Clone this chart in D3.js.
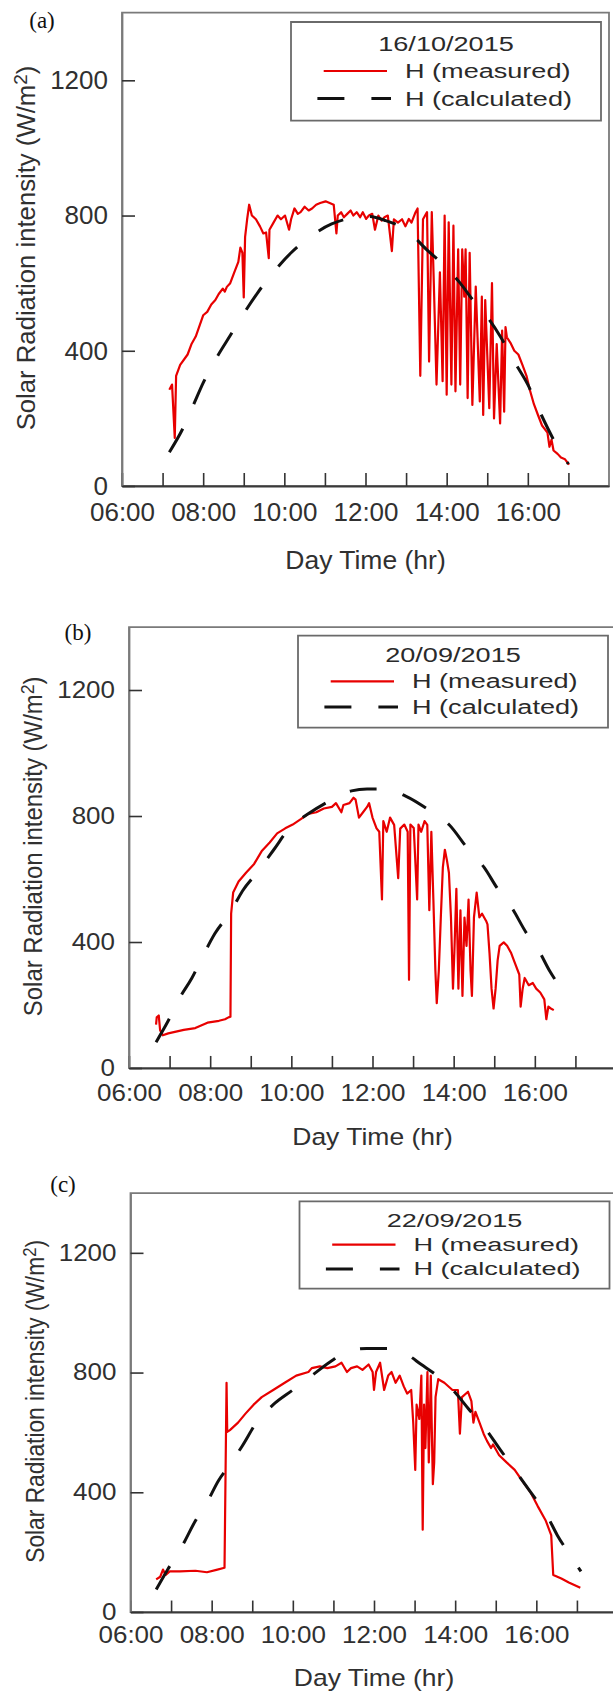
<!DOCTYPE html>
<html>
<head>
<meta charset="utf-8">
<script src="https://cdn.jsdelivr.net/npm/d3@7"></script>
<style>
  body { margin: 0; background: #fff; }
  svg { display: block; }
</style>
</head>
<body>
<div id="chart"></div>
<script>
// (a) 16/10/2015
const measuredA = [
  ["07:10", 285], ["07:14", 300], ["07:18", 142], ["07:20", 326], ["07:26", 358], ["07:37", 389],
  ["07:43", 421], ["07:49", 442], ["08:00", 505], ["08:06", 515], ["08:12", 537], ["08:18", 550],
  ["08:23", 568], ["08:29", 584], ["08:32", 575], ["08:35", 589], ["08:40", 600], ["08:46", 632],
  ["08:52", 663], ["08:55", 705], ["08:58", 690], ["09:00", 558], ["09:02", 737], ["09:05", 789],
  ["09:08", 832], ["09:12", 800], ["09:18", 789], ["09:24", 768], ["09:29", 747], ["09:33", 750],
  ["09:37", 674], ["09:38", 758], ["09:44", 779], ["09:50", 800], ["09:55", 789], ["10:01", 800],
  ["10:07", 758], ["10:10", 789], ["10:15", 821], ["10:20", 805], ["10:24", 810], ["10:30", 826],
  ["10:36", 815], ["10:41", 821], ["10:47", 832], ["10:53", 837], ["11:01", 842], ["11:07", 837],
  ["11:13", 832], ["11:17", 747], ["11:19", 800], ["11:24", 810], ["11:28", 795], ["11:33", 805],
  ["11:38", 815], ["11:42", 800], ["11:47", 810], ["11:52", 795], ["11:56", 810], ["12:01", 790],
  ["12:05", 800], ["12:10", 805], ["12:14", 758], ["12:19", 800], ["12:24", 785], ["12:28", 795],
  ["12:33", 800], ["12:39", 695], ["12:42", 789], ["12:48", 779], ["12:54", 789], ["12:59", 768],
  ["13:04", 790], ["13:08", 779], ["13:14", 810], ["13:17", 821], ["13:21", 326], ["13:25", 789],
  ["13:31", 810], ["13:34", 368], ["13:38", 810], ["13:41", 600], ["13:45", 300], ["13:50", 632],
  ["13:54", 310], ["13:57", 800], ["14:00", 270], ["14:03", 780], ["14:07", 300], ["14:10", 770],
  ["14:13", 280], ["14:17", 700], ["14:20", 300], ["14:23", 700], ["14:26", 560], ["14:28", 700],
  ["14:31", 260], ["14:34", 690], ["14:38", 240], ["14:43", 590], ["14:49", 250], ["14:52", 560],
  ["14:54", 210], ["14:57", 550], ["15:03", 230], ["15:07", 600], ["15:10", 200], ["15:14", 420],
  ["15:19", 185], ["15:22", 460], ["15:25", 220], ["15:27", 470], ["15:29", 440], ["15:35", 421],
  ["15:40", 400], ["15:46", 389], ["15:52", 358], ["15:58", 326], ["16:03", 284], ["16:09", 242],
  ["16:15", 210], ["16:21", 179], ["16:29", 158], ["16:32", 116], ["16:35", 137], ["16:38", 105],
  ["16:44", 95], ["16:49", 84], ["16:55", 79], ["17:01", 63]
];
const calculatedA = [
  ["07:10", 100], ["07:30", 170], ["07:45", 237], ["08:00", 305], ["08:20", 380], ["08:40", 445],
  ["09:00", 510], ["09:20", 570], ["09:45", 635], ["10:10", 690], ["10:40", 740], ["11:10", 775],
  ["11:40", 793], ["12:05", 797], ["12:30", 785], ["13:00", 758], ["13:30", 700], ["14:00", 645],
  ["14:20", 600], ["14:40", 547], ["15:00", 500], ["15:20", 440], ["15:40", 368], ["16:00", 300],
  ["16:20", 210], ["16:40", 130], ["17:00", 65]
];

// (b) 20/09/2015
const measuredB = [
  ["06:40", 138], ["06:41", 161], ["06:44", 167], ["06:46", 120], ["06:50", 104], ["06:58", 110],
  ["07:21", 121], ["07:38", 127], ["07:56", 144], ["08:13", 150], ["08:22", 155], ["08:27", 161],
  ["08:30", 163], ["08:31", 490], ["08:34", 557], ["08:42", 592], ["08:53", 620], ["09:05", 648],
  ["09:16", 688], ["09:28", 716], ["09:39", 745], ["09:51", 761], ["10:02", 773], ["10:14", 790],
  ["10:25", 807], ["10:37", 812], ["10:48", 824], ["11:00", 829], ["11:06", 841], ["11:14", 812],
  ["11:17", 835], ["11:26", 841], ["11:32", 858], ["11:35", 852], ["11:40", 795], ["11:46", 812],
  ["11:52", 829], ["11:55", 841], ["12:00", 795], ["12:06", 761], ["12:10", 750], ["12:14", 535],
  ["12:16", 784], ["12:21", 750], ["12:26", 795], ["12:32", 772], ["12:38", 603], ["12:41", 760],
  ["12:47", 773], ["12:52", 750], ["12:54", 280], ["12:56", 773], ["13:01", 762], ["13:06", 535],
  ["13:08", 773], ["13:12", 750], ["13:17", 784], ["13:21", 772], ["13:24", 501], ["13:27", 750],
  ["13:30", 535], ["13:33", 308], ["13:35", 206], ["13:38", 308], ["13:41", 478], ["13:44", 637],
  ["13:47", 693], ["13:50", 660], ["13:53", 620], ["13:56", 478], ["13:59", 252], ["14:01", 365],
  ["14:04", 569], ["14:07", 252], ["14:10", 501], ["14:13", 229], ["14:16", 478], ["14:19", 388],
  ["14:22", 535], ["14:25", 308], ["14:27", 229], ["14:30", 478], ["14:34", 557], ["14:38", 478],
  ["14:42", 490], ["14:48", 467], ["14:50", 456], ["14:53", 365], ["14:56", 252], ["14:59", 189],
  ["15:02", 252], ["15:05", 342], ["15:08", 388], ["15:14", 399], ["15:19", 388], ["15:25", 365],
  ["15:31", 331], ["15:37", 297], ["15:39", 195], ["15:42", 252], ["15:45", 286], ["15:51", 263],
  ["15:57", 270], ["16:02", 252], ["16:08", 240], ["16:14", 218], ["16:17", 155], ["16:20", 195],
  ["16:23", 190], ["16:28", 184]
];
const calculatedB = [
  ["06:40", 82], ["06:58", 150], ["07:15", 223], ["07:33", 286], ["07:50", 359], ["08:07", 427],
  ["08:30", 495], ["08:48", 563], ["09:11", 625], ["09:34", 693], ["09:57", 761], ["10:25", 807],
  ["11:00", 852], ["11:29", 880], ["11:52", 886], ["12:18", 886], ["12:49", 863], ["13:24", 818],
  ["13:53", 773], ["14:22", 693], ["14:45", 637], ["15:05", 569], ["15:25", 512], ["15:48", 427],
  ["16:05", 376], ["16:22", 308], ["16:32", 274]
];

// (c) 22/09/2015
const measuredC = [
  ["06:38", 109], ["06:44", 118], ["06:48", 142], ["06:52", 124], ["06:58", 136], ["07:13", 136],
  ["07:36", 138], ["07:53", 133], ["08:07", 141], ["08:19", 148], ["08:22", 766], ["08:23", 602],
  ["08:27", 608], ["08:39", 633], ["08:50", 663], ["09:02", 693], ["09:14", 718], ["09:31", 742],
  ["09:48", 766], ["10:05", 790], ["10:23", 802], ["10:28", 815], ["10:40", 821], ["10:51", 815],
  ["11:03", 821], ["11:12", 833], ["11:20", 802], ["11:26", 815], ["11:35", 821], ["11:43", 809],
  ["11:52", 827], ["11:58", 802], ["12:00", 742], ["12:03", 802], ["12:09", 833], ["12:15", 742],
  ["12:21", 790], ["12:26", 802], ["12:32", 766], ["12:38", 790], ["12:44", 754], ["12:49", 730],
  ["12:55", 742], ["12:58", 633], ["13:01", 475], ["13:03", 693], ["13:07", 645], ["13:10", 790],
  ["13:12", 275], ["13:14", 693], ["13:16", 548], ["13:19", 802], ["13:21", 500], ["13:24", 790],
  ["13:27", 427], ["13:29", 500], ["13:31", 718], ["13:35", 778], ["13:44", 766], ["13:56", 742],
  ["14:04", 742], ["14:07", 596], ["14:10", 718], ["14:19", 736], ["14:24", 705], ["14:27", 633],
  ["14:30", 669], ["14:36", 633], ["14:42", 596], ["14:47", 572], ["14:53", 548], ["14:56", 560],
  ["15:05", 524], ["15:16", 500], ["15:28", 475], ["15:39", 439], ["15:51", 402], ["16:02", 354],
  ["16:14", 305], ["16:20", 269], ["16:22", 257], ["16:25", 124], ["16:37", 112], ["16:48", 99],
  ["17:05", 81]
];
const calculatedC = [
  ["06:38", 75], ["06:55", 142], ["07:15", 215], ["07:36", 305], ["07:53", 366], ["08:10", 439],
  ["08:27", 493], ["08:45", 554], ["09:08", 639], ["09:31", 693], ["10:00", 742], ["10:28", 790],
  ["10:57", 839], ["11:26", 875], ["11:49", 881], ["12:18", 881], ["12:47", 863], ["13:10", 827],
  ["13:33", 790], ["13:59", 736], ["14:19", 681], ["14:42", 621], ["15:05", 548], ["15:28", 475],
  ["15:51", 402], ["16:14", 330], ["16:31", 257], ["16:48", 196], ["17:06", 136]
];

const dates = ["16/10/2015", "20/09/2015", "22/09/2015"];
const tags = ["(a)", "(b)", "(c)"];
const yTicks = [0, 400, 800, 1200];
const xTickHours = [6, 7, 8, 9, 10, 11, 12, 13, 14, 15, 16, 17];
const xLabelHours = [6, 8, 10, 12, 14, 16];
const seriesNames = ["H (measured)", "H (calculated)"];

const width = 613, height = 1691;
const font = "Arial, 'Liberation Sans', sans-serif";
const red = "#e80000";
const dash = "27,27";

// all three panels are the same figure, squeezed vertically by a different amount
const plot = {left: 122, right: 609, top: 12.7, bottom: 486};
const panels = [
  {measured: measuredA, calculated: calculatedA, ox: 0, oy: 0, sy: 1, tag: [42, 21.7]},
  {measured: measuredB, calculated: calculatedB, ox: 7, oy: 615.2, sy: 0.9318, tag: [78, 634]},
  {measured: measuredC, calculated: calculatedC, ox: 8.5, oy: 1181.8, sy: 0.8853, tag: [63, 1185.5]}
];

const parseTime = d3.timeParse("%H:%M");
const hourDate = h => parseTime(d3.format("02")(h) + ":00");

const x = d3.scaleTime()
  .domain([hourDate(6), hourDate(18)])
  .range([plot.left, plot.right]);
const y = d3.scaleLinear()
  .domain([0, 1400])
  .range([plot.bottom, plot.top]);

const line = d3.line()
  .x(d => x(parseTime(d[0])))
  .y(d => y(d[1]));
const smooth = d3.line()
  .curve(d3.curveMonotoneX)
  .x(d => x(parseTime(d[0])))
  .y(d => y(d[1]));

const svg = d3.select("#chart")
  .append("svg")
  .attr("width", width)
  .attr("height", height)
  .style("background", "#fff");

panels.forEach((p, i) => {
  let g = svg.append("g")
    .attr("transform", `translate(${p.ox},${p.oy}) scale(1,${p.sy})`);

  // frame
  g.append("rect")
    .attr("x", plot.left)
    .attr("y", plot.top)
    .attr("width", plot.right - plot.left)
    .attr("height", plot.bottom - plot.top)
    .attr("fill", "none")
    .attr("stroke", "#7a7a7a")
    .attr("stroke-width", 1.8)
    .attr("vector-effect", "non-scaling-stroke");

  // data
  g.append("path")
    .datum(p.measured)
    .attr("d", line)
    .attr("fill", "none")
    .attr("stroke", red)
    .attr("stroke-width", 2.2)
    .attr("stroke-linejoin", "round")
    .attr("vector-effect", "non-scaling-stroke");

  g.append("path")
    .datum(p.calculated)
    .attr("d", smooth)
    .attr("fill", "none")
    .attr("stroke", "#111")
    .attr("stroke-width", 3)
    .attr("stroke-dasharray", dash)
    .attr("vector-effect", "non-scaling-stroke");

  // axes, ticks pointing inwards
  let xAxis = g.append("g")
    .attr("transform", `translate(0,${plot.bottom})`)
    .call(d3.axisBottom(x)
      .tickValues(xTickHours.map(hourDate))
      .tickSizeInner(-13)
      .tickSizeOuter(0)
      .tickPadding(17)
      .tickFormat(d => xLabelHours.includes(d.getHours()) ? d3.timeFormat("%H:%M")(d) : ""));

  let yAxis = g.append("g")
    .attr("transform", `translate(${plot.left},0)`)
    .call(d3.axisLeft(y)
      .tickValues(yTicks)
      .tickSizeInner(-13)
      .tickSizeOuter(0)
      .tickPadding(14)
      .tickFormat(d3.format("d")));

  [xAxis, yAxis].forEach(a => {
    a.attr("font-family", font).attr("font-size", 26);
    a.selectAll("text").attr("fill", "#303030");
    a.selectAll(".tick line").attr("stroke", "#333").attr("stroke-width", 1.6)
      .attr("vector-effect", "non-scaling-stroke");
  });
  xAxis.select(".domain").attr("stroke", "#3a3a3a").attr("stroke-width", 2)
    .attr("vector-effect", "non-scaling-stroke");
  yAxis.select(".domain").attr("stroke", "#7a7a7a").attr("stroke-width", 1.8)
    .attr("vector-effect", "non-scaling-stroke");

  // axis titles
  g.append("text")
    .attr("x", (plot.left + plot.right) / 2)
    .attr("y", 569)
    .attr("text-anchor", "middle")
    .attr("font-family", font)
    .attr("font-size", 26.5)
    .attr("fill", "#303030")
    .text("Day Time (hr)");

  let ylab = g.append("text")
    .attr("transform", "translate(26,248) rotate(-90)")
    .attr("text-anchor", "middle")
    .attr("dy", "0.36em")
    .attr("font-family", font)
    .attr("font-size", 25.7)
    .attr("fill", "#303030");
  ylab.append("tspan").text("Solar Radiation intensity (W/m");
  ylab.append("tspan").attr("dy", -8).attr("font-size", 19).text("2");
  ylab.append("tspan").attr("dy", 8).text(")");

  // legend
  let leg = g.append("g");
  leg.append("rect")
    .attr("x", 291)
    .attr("y", 22)
    .attr("width", 310)
    .attr("height", 98.7)
    .attr("fill", "#fff")
    .attr("stroke", "#6a6a6a")
    .attr("stroke-width", 1.8)
    .attr("vector-effect", "non-scaling-stroke");

  let legText = (tx, ty, anchor, s) => leg.append("text")
    .attr("transform", `translate(${tx},${ty}) scale(1.29,1)`)
    .attr("text-anchor", anchor)
    .attr("font-family", font)
    .attr("font-size", 21)
    .attr("fill", "#2a2a2a")
    .text(s);

  legText(446, 50.5, "middle", dates[i]);
  leg.append("line")
    .attr("x1", 323.7).attr("x2", 387)
    .attr("y1", 71).attr("y2", 71)
    .attr("stroke", red)
    .attr("stroke-width", 2.2)
    .attr("vector-effect", "non-scaling-stroke");
  legText(405, 78.2, "start", seriesNames[0]);
  leg.append("line")
    .attr("x1", 317.4).attr("x2", 391)
    .attr("y1", 98.5).attr("y2", 98.5)
    .attr("stroke", "#111")
    .attr("stroke-width", 3)
    .attr("stroke-dasharray", dash)
    .attr("vector-effect", "non-scaling-stroke");
  legText(405, 105.5, "start", seriesNames[1]);

  // panel tag, placed on the page directly
  svg.append("text")
    .attr("x", p.tag[0])
    .attr("y", p.tag[1] + 6)
    .attr("text-anchor", "middle")
    .attr("font-family", "'Times New Roman', 'Liberation Serif', serif")
    .attr("font-size", 23)
    .attr("fill", "#111")
    .text(tags[i]);
});
</script>
</body>
</html>
